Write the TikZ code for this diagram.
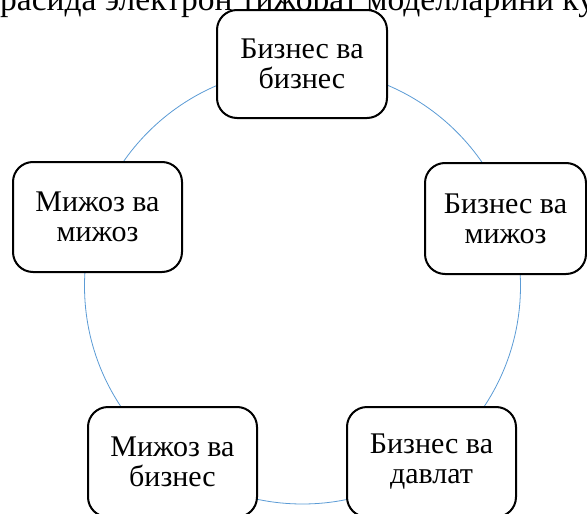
\documentclass[tikz,border=0pt]{standalone}
\usepackage{fontspec}
\setmainfont{Liberation Serif}
\begin{document}
\begin{tikzpicture}[x=1pt,y=-1pt,
  stage/.style={draw=black,line width=2pt,fill=white,rounded corners=20pt,
    minimum width=#1,minimum height=110pt,align=center,inner sep=0pt,
    font=\fontsize{30}{30}\selectfont}]
\useasboundingbox (0,0) rectangle (587,514);
\clip (0,0) rectangle (587,514);
\definecolor{ringblue}{RGB}{91,155,213}
\node[anchor=base west,inner sep=0pt,font=\fontsize{33.5}{33.5}\selectfont] (title) at (0,10) {расида электрон тижорат моделларини ку};
\coordinate (c) at (302.5,286);
\draw[draw=ringblue,line width=0.8pt] (c) circle[radius=218];
\node[stage=170pt,minimum height=108pt] (bb) at (302,64) {Бизнес ва\\бизнес};
\node[stage=161pt,minimum height=111pt] (bc) at (505.5,218.5) {Бизнес ва\\мижоз};
\node[stage=169pt] (bg) at (431.5,462) {Бизнес ва\\давлат};
\node[stage=169pt] (cb) at (172.5,462) {Мижоз ва\\бизнес};
\node[stage=169pt] (cc) at (97.5,217) {Мижоз ва\\мижоз};
\end{tikzpicture}
\end{document}
